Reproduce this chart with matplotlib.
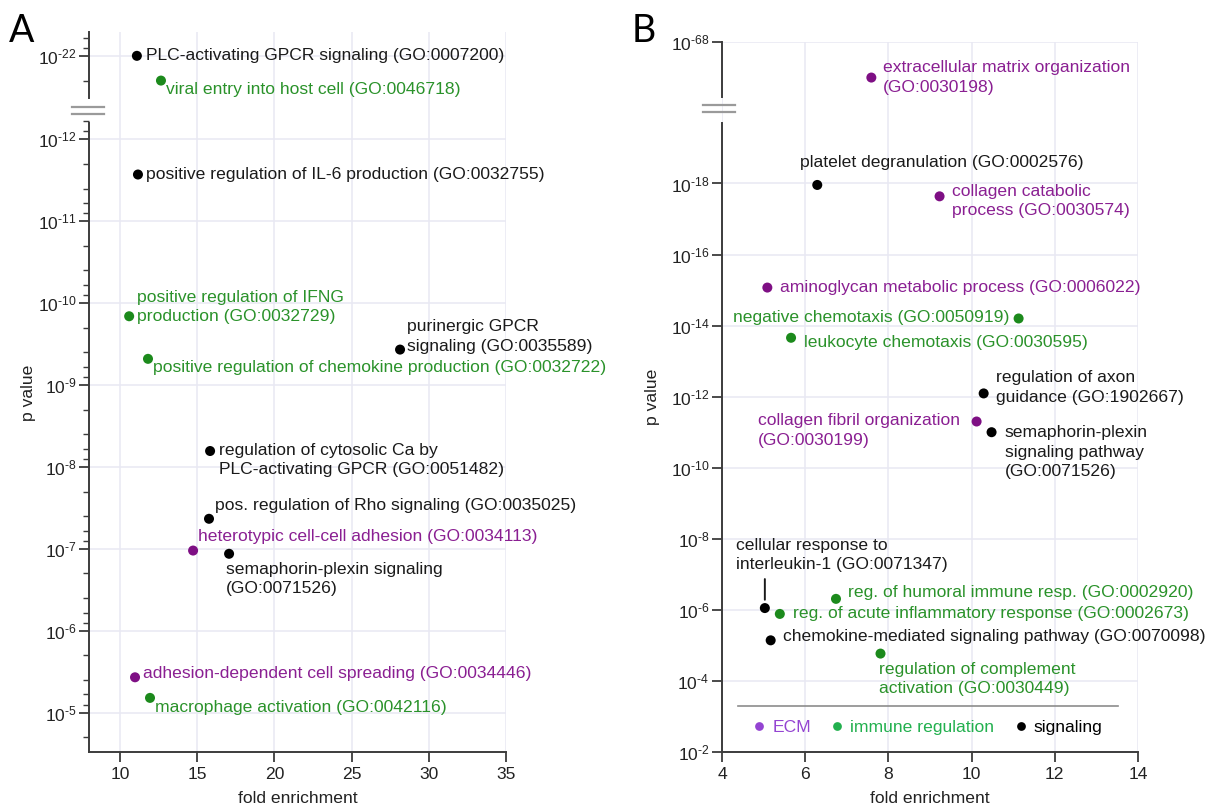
import math
import matplotlib
matplotlib.use('Agg')
import matplotlib.pyplot as plt
from matplotlib.ticker import FixedLocator, NullLocator, FuncFormatter
from matplotlib.lines import Line2D

plt.rcParams['font.family'] = ['Liberation Sans', 'DejaVu Sans']
plt.rcParams['axes.unicode_minus'] = False
plt.rcParams['mathtext.fontset'] = 'custom'
plt.rcParams['mathtext.rm'] = 'Liberation Sans'
plt.rcParams['mathtext.it'] = 'Liberation Sans'
plt.rcParams['mathtext.bf'] = 'Liberation Sans'

# ---------------- data: panel A ----------------
A_terms = [
    "PLC-activating GPCR signaling (GO:0007200)",
    "viral entry into host cell (GO:0046718)",
    "positive regulation of IL-6 production (GO:0032755)",
    "positive regulation of IFNG\nproduction (GO:0032729)",
    "positive regulation of chemokine production (GO:0032722)",
    "purinergic GPCR\nsignaling (GO:0035589)",
    "regulation of cytosolic Ca by\nPLC-activating GPCR (GO:0051482)",
    "pos. regulation of Rho signaling (GO:0035025)",
    "heterotypic cell-cell adhesion (GO:0034113)",
    "semaphorin-plexin signaling\n(GO:0071526)",
    "adhesion-dependent cell spreading (GO:0034446)",
    "macrophage activation (GO:0042116)",
]
A_fold = [11.1, 12.66, 11.17, 10.6, 11.82, 28.14, 15.84, 15.77, 14.74, 17.07, 10.98, 11.95]
A_pval = [1e-22, 2e-22, 2.7e-12, 1.45e-10, 4.8e-10, 3.7e-10, 6.4e-9, 4.3e-8, 1.05e-7, 1.15e-7, 3.7e-6, 6.6e-6]
A_cat = ["signaling", "immune", "signaling", "immune", "immune", "signaling",
         "signaling", "signaling", "ECM", "signaling", "ECM", "immune"]
A_xticks = [10, 15, 20, 25, 30, 35]
A_yticks_low = [1e-12, 1e-11, 1e-10, 1e-9, 1e-8, 1e-7, 1e-6, 1e-5]
A_yticks_up = [1e-22]

# ---------------- data: panel B ----------------
B_terms = [
    "extracellular matrix organization\n(GO:0030198)",
    "platelet degranulation (GO:0002576)",
    "collagen catabolic\nprocess (GO:0030574)",
    "aminoglycan metabolic process (GO:0006022)",
    "negative chemotaxis (GO:0050919)",
    "leukocyte chemotaxis (GO:0030595)",
    "regulation of axon\nguidance (GO:1902667)",
    "collagen fibril organization\n(GO:0030199)",
    "semaphorin-plexin\nsignaling pathway\n(GO:0071526)",
    "cellular response to\ninterleukin-1 (GO:0071347)",
    "reg. of humoral immune resp. (GO:0002920)",
    "reg. of acute inflammatory response (GO:0002673)",
    "chemokine-mediated signaling pathway (GO:0070098)",
    "regulation of complement\nactivation (GO:0030449)",
]
B_fold = [7.59, 6.29, 9.23, 5.09, 11.13, 5.66, 10.29, 10.12, 10.48, 5.03, 6.74, 5.39, 5.17, 7.81]
B_pval = [1e-67, 1.1e-18, 2.3e-18, 8.5e-16, 6.3e-15, 2.2e-14, 8.1e-13, 5e-12, 1e-11,
          8.9e-7, 4.9e-7, 1.3e-6, 7.2e-6, 1.7e-5]
B_cat = ["ECM", "signaling", "ECM", "ECM", "immune", "immune", "signaling", "ECM",
         "signaling", "signaling", "immune", "immune", "signaling", "immune"]
B_xticks = [4, 6, 8, 10, 12, 14]
B_yticks_low = [1e-18, 1e-16, 1e-14, 1e-12, 1e-10, 1e-8, 1e-6, 1e-4, 1e-2]
B_yticks_up = [1e-68]

legend_labels = ["ECM", "immune regulation", "signaling"]

# ---------------- styles ----------------
point_color = {"ECM": "#7e0f84", "immune": "#1c8a1c", "signaling": "#000000"}
text_color = {"ECM": "#8a1f92", "immune": "#2a922a", "signaling": "#1a1a1a"}
legend_color = {"ECM": "#9444d2", "immune regulation": "#22b04e", "signaling": "#000000"}

# label placement: (dx, dy) offset in pixels, ha
A_place = [(9, 0, 'left'), (5, -9, 'left'), (8, 0, 'left'), (8, 9.5, 'left'),
           (5, -9, 'left'), (7, 13, 'left'), (9, -9, 'left'), (6, 13, 'left'),
           (5, 14, 'left'), (-3, -25, 'left'), (8, 4, 'left'), (5, -10, 'left')]
B_place = [(12, 0, 'left'), (-17, 22, 'left'), (12, -5, 'left'), (13, 0, 'left'),
           (-9, 1, 'right'), (13, -5, 'left'), (12, 6, 'left'), (-17, -9, 'right'),
           (13, -20, 'left'), (-29, 53, 'left'), (12, 6, 'left'), (13, 0, 'left'),
           (12, 4, 'left'), (-1, -25.5, 'left')]

FS = 12.6
W, H = 1210, 809
fig = plt.figure(figsize=(W / 100, H / 100), dpi=100)

def fx(px):
    return px / W

def fy(py):
    return 1 - py / H

def make_axes(x0, x1, ytop, ybreak, ybot):
    axu = fig.add_axes([fx(x0), fy(ybreak), fx(x1 - x0), (ybreak - ytop) / H])
    axl = fig.add_axes([fx(x0), fy(ybot), fx(x1 - x0), (ybot - ybreak) / H])
    return axu, axl

grid_c = '#e8e8f3'
spine_c = '#3c3c3c'

def fmt_exp(v, pos):
    e = int(round(math.log10(v)))
    return r'$\mathdefault{10^{\text{-}%d}}$' % abs(e)

def style(ax, xlim, xticks, ylim, yticks, spine_bounds, minor=None, bottom=True):
    ax.set_yscale('log')
    ax.set_xlim(*xlim)
    ax.set_ylim(*ylim)
    for s in ['top', 'right']:
        ax.spines[s].set_visible(False)
    ax.spines['left'].set_color(spine_c)
    ax.spines['left'].set_linewidth(1.4)
    ax.spines['left'].set_bounds(*spine_bounds)
    ax.spines['bottom'].set_color(spine_c)
    ax.spines['bottom'].set_linewidth(1.4)
    ax.xaxis.set_major_locator(FixedLocator(xticks))
    ax.yaxis.set_major_locator(FixedLocator(yticks))
    ax.yaxis.set_major_formatter(FuncFormatter(fmt_exp))
    if minor:
        ax.yaxis.set_minor_locator(FixedLocator(minor))
    else:
        ax.yaxis.set_minor_locator(NullLocator())
    ax.yaxis.set_minor_formatter(FuncFormatter(lambda v, p: ''))
    ax.grid(True, which='major', color=grid_c, lw=1.1, zorder=0)
    ax.set_axisbelow(True)
    ax.tick_params(axis='y', which='major', length=7, width=1.3, color=spine_c,
                   labelsize=FS, pad=2, labelcolor='#222222')
    ax.tick_params(axis='y', which='minor', length=4, width=1.0, color=spine_c)
    ax.tick_params(axis='x', which='major', length=7, width=1.3, color=spine_c,
                   labelsize=FS, pad=4, labelcolor='#222222')
    if not bottom:
        ax.spines['bottom'].set_visible(False)
        ax.tick_params(axis='x', which='both', length=0, labelbottom=False)
    ax.patch.set_alpha(0)

def draw_points(axu, axl, fold, pval, cat, terms, place, ysplit):
    for f, p, c, t, (dx, dy, ha) in zip(fold, pval, cat, terms, place):
        ax = axu if p < ysplit else axl
        ax.scatter([f], [p], s=52, color=point_color[c], zorder=4, clip_on=False,
                   edgecolors='none')
        ax.annotate(t, xy=(f, p), xytext=(dx, dy), textcoords='offset pixels',
                    ha=ha, va='center', color=text_color[c], fontsize=FS,
                    linespacing=1.36, multialignment='left', zorder=5,
                    annotation_clip=False)

def break_marks(xa, xb, y1, y2):
    for y in (y1, y2):
        fig.add_artist(Line2D([fx(xa), fx(xb)], [fy(y), fy(y)], color='#9a9a9a',
                              lw=1.6, transform=fig.transFigure))

# ---------------- panel A ----------------
aAu, aAl = make_axes(89, 506, 32, 110.5, 752)
style(aAu, (8, 35), A_xticks, (10 ** -21.335, 10 ** -22.29), A_yticks_up,
      (10 ** -21.49, 10 ** -22.29), minor=[6e-23, 8e-23, 2e-22], bottom=False)
style(aAl, (8, 35), A_xticks, (10 ** -4.52, 10 ** -12.35), A_yticks_low,
      (10 ** -4.52, 10 ** -12.2),
      minor=[m * 10.0 ** e for e in range(-13, -4) for m in (2, 4, 6, 8)])
draw_points(aAu, aAl, A_fold, A_pval, A_cat, A_terms, A_place, 1e-15)
break_marks(72, 104, 107, 114)
aAl.set_xlabel('fold enrichment', fontsize=FS, color='#222222', labelpad=6.5)
fig.text(fx(28), fy(393), 'p value', rotation=90, ha='center', va='center',
         fontsize=FS, color='#222222')

# ---------------- panel B ----------------
bBu, bBl = make_axes(722, 1138, 42, 108.5, 752)
style(bBu, (4, 14), B_xticks, (10 ** -66.13, 10 ** -68.0), B_yticks_up,
      (10 ** -66.45, 10 ** -68.0), bottom=False)
style(bBl, (4, 14), B_xticks, (10 ** -2.0, 10 ** -20.11), B_yticks_low,
      (10 ** -2.0, 10 ** -19.71))
draw_points(bBu, bBl, B_fold, B_pval, B_cat, B_terms, B_place, 1e-40)
# connector for "cellular response to interleukin-1"
i_il1 = B_terms.index("cellular response to\ninterleukin-1 (GO:0071347)")
bBl.annotate('', xy=(B_fold[i_il1], B_pval[i_il1]), xytext=(0, 29),
             textcoords='offset pixels',
             arrowprops=dict(arrowstyle='-', color='#1a1a1a', lw=1.4,
                             shrinkA=0, shrinkB=6))
break_marks(703, 735, 105, 112)
bBl.set_xlabel('fold enrichment', fontsize=FS, color='#222222', labelpad=6.5)
fig.text(fx(652), fy(397), 'p value', rotation=90, ha='center', va='center',
         fontsize=FS, color='#222222')

# legend separator + legend
bBl.add_line(Line2D([0.038, 0.952], [0.0715, 0.0715], transform=bBl.transAxes,
                    color='#8c8c8c', lw=1.2))
handles = [Line2D([], [], ls='none', marker='o', markersize=6.3,
                  markerfacecolor=legend_color[l], markeredgecolor='none', label=l)
           for l in legend_labels]
leg = bBl.legend(handles=handles, ncol=3, loc='center left',
                 bbox_to_anchor=((754 - 722) / 416, 0.038), frameon=False,
                 fontsize=FS, handlelength=0.6, handletextpad=0.45,
                 columnspacing=1.2, borderpad=0, borderaxespad=0)
for txt, l in zip(leg.get_texts(), legend_labels):
    txt.set_color(legend_color[l])

# panel letters
fig.text(fx(9), fy(42), 'A', fontsize=27, family=['Lato', 'DejaVu Sans'],
         va='baseline', ha='left')
fig.text(fx(632), fy(42), 'B', fontsize=27, family=['Lato', 'DejaVu Sans'],
         va='baseline', ha='left')

fig.savefig('out.png', dpi=100)
